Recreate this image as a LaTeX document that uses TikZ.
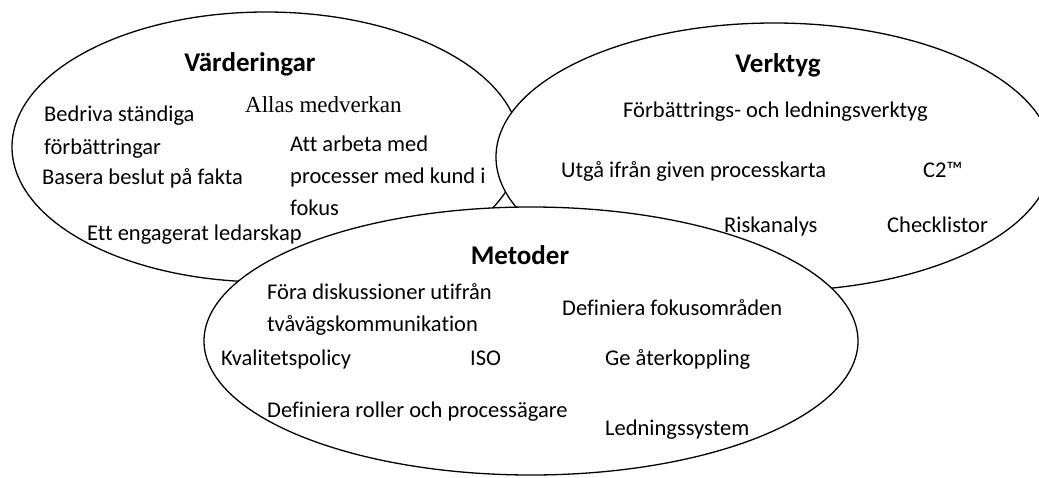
\documentclass[tikz,border=0pt]{standalone}
\usepackage{fontspec}
\setmainfont{Carlito}[Ligatures=NoCommon]
\newfontfamily\timesfont{Liberation Serif}
\usetikzlibrary{shapes.geometric}

\begin{document}
\begin{tikzpicture}[x=1pt, y=-1pt,
    circle area/.style={draw=black, fill=white, ellipse, line width=1.3pt,
                        inner sep=0pt, outer sep=0pt},
    head/.style={anchor=base, font=\fontsize{27}{32}\selectfont\bfseries},
    item/.style={anchor=base west, inner sep=0pt, font=\fontsize{22.5}{27}\selectfont},
    serif item/.style={anchor=base west, inner sep=0pt, font=\timesfont\fontsize{23}{27}\selectfont}]

  % page area
  \fill[white] (0,0) rectangle (1039,477);
  \useasboundingbox (0,0) rectangle (1039,477);

  % the three overlapping areas, later ones drawn over earlier ones
  \node[circle area, minimum width=508pt, minimum height=270pt] (vard) at (266,147) {};
  \node[circle area, minimum width=556pt, minimum height=268pt] (verk) at (774,157) {};
  \node[circle area, minimum width=654pt, minimum height=268pt] (met)  at (531,341) {};

  % Värderingar
  \node[head] (vardT) at (250,71) {Värderingar};
  \node[serif item] (v1) at (245,112) {Allas medverkan};
  \node[item] (v2a) at (44,121) {Bedriva ständiga};
  \node[item] (v2b) at (44,154) {förbättringar};
  \node[item] (v3) at (42,184) {Basera beslut på fakta};
  \node[item] (v4a) at (290,151) {Att arbeta med};
  \node[item] (v4b) at (290,183) {processer med kund i};
  \node[item] (v4c) at (290,215) {fokus};
  \node[item] (v5) at (87,240) {Ett engagerat ledarskap};

  % Verktyg
  \node[head] (verkT) at (778,72) {Verktyg};
  \node[item] (k1) at (623,117) {Förbättrings- och ledningsverktyg};
  \node[item] (k2) at (561,177) {Utgå ifrån given processkarta};
  \node[item] (k3) at (923,177) {C2™};
  \node[item] (k4) at (724,232) {Riskanalys};
  \node[item] (k5) at (887,232) {Checklistor};

  % Metoder
  \node[head] (metT) at (520,264) {Metoder};
  \node[item] (m1a) at (267,299) {Föra diskussioner utifrån};
  \node[item] (m1b) at (267,331) {tvåvägskommunikation};
  \node[item] (m2) at (562,315) {Definiera fokusområden};
  \node[item] (m3) at (221,365) {Kvalitetspolicy};
  \node[item] (m4) at (470,365) {ISO};
  \node[item] (m5) at (605,365) {Ge återkoppling};
  \node[item] (m6) at (267,417) {Definiera roller och processägare};
  \node[item] (m7) at (605,435) {Ledningssystem};
\end{tikzpicture}
\end{document}
